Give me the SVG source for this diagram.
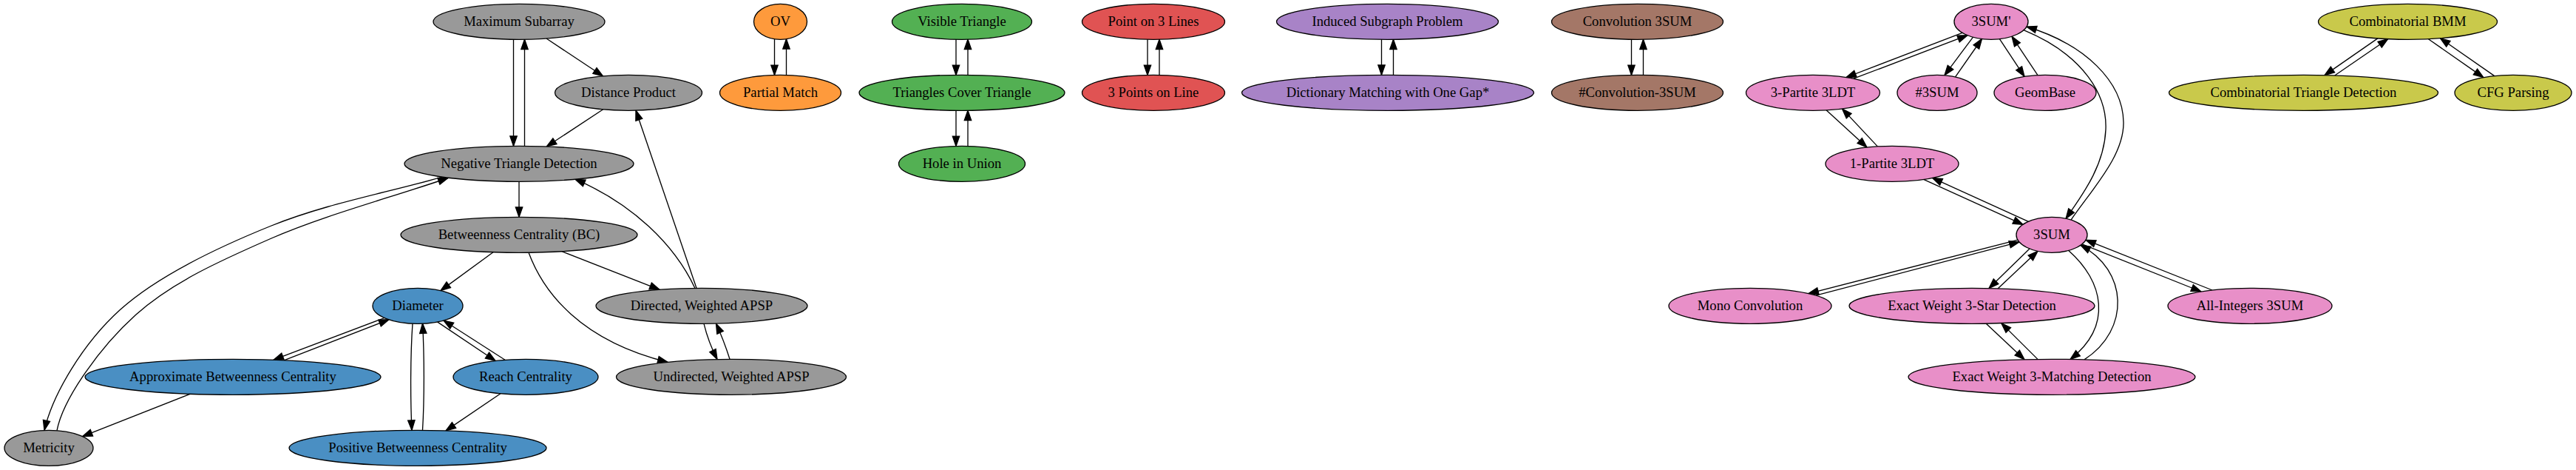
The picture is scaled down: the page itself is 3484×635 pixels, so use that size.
<svg xmlns="http://www.w3.org/2000/svg" width="3484" height="635" viewBox="0 0 3484 635">
<style>
.n ellipse{stroke:#000;stroke-width:1.33}
.n text{font-family:"Liberation Serif","Times New Roman",serif;font-size:18.67px;text-anchor:middle;fill:#000}
.gray ellipse{fill:#999999}
.blue ellipse{fill:#4a8fc3}
.orange ellipse{fill:#fe9a3c}
.green ellipse{fill:#53b053}
.red ellipse{fill:#e05353}
.purple ellipse{fill:#a883c7}
.brown ellipse{fill:#a47767}
.pink ellipse{fill:#e88fc8}
.olive ellipse{fill:#c9c94b}
#edges path{fill:none;stroke:#000;stroke-width:1.33;marker-end:url(#ah)}
</style>
<defs>
<marker id="ah" markerUnits="userSpaceOnUse" markerWidth="16" markerHeight="12" refX="13.3" refY="4.67" orient="auto" overflow="visible">
<path d="M0,0 L13.3,4.67 L0,9.33 z" fill="#000" stroke="#000" stroke-width="1.33"/>
</marker>
</defs>
<rect width="3484" height="635" fill="#fff"/>
<g id="edges">
<path d="M694.5,53.2 L694.5,197.3"/>
<path d="M709.5,197.3 L709.5,53.2"/>
<path d="M739,52 L815.5,102.8"/>
<path d="M815.7,147.8 L739.3,198"/>
<path d="M702,245.3 L702,293.3"/>
<path d="M598,239.1 C521,261 440.7,275.3 367,305 C293.3,334.7 214,372.2 163,418 C112,463.8 71,533.3 60,581.4"/>
<path d="M77,581.7 C85.3,538.4 135.7,468.3 184,425 C232.3,381.7 296.7,352.7 367,322 C437.3,291.3 526.3,267.7 606,240.5"/>
<path d="M940,389.5 C912,330 855,275 778,242.2"/>
<path d="M942,389.3 L860,149.2"/>
<path d="M760,339.7 L892,391.3"/>
<path d="M715,341.2 C735,395 785,460 903,489.3"/>
<path d="M952,437.3 Q958,462 970,485.5"/>
<path d="M987,485.3 Q979,460 968.5,437.3"/>
<path d="M667,340.7 L596,392.6"/>
<path d="M520,429.5 L370,486.2"/>
<path d="M384,486.8 L526,431.8"/>
<path d="M558,437.1 C555,480 555,540 557,581.3"/>
<path d="M571.5,581.3 C574,540 574,480 571.5,437.1"/>
<path d="M591.5,434.9 L670,487.5"/>
<path d="M683,486.3 L600,433"/>
<path d="M677,531.8 L603,581.9"/>
<path d="M257,532.3 L111.5,589.7"/>
<path d="M1047.5,52.7 L1047.5,101.4"/>
<path d="M1063.5,101.4 L1063.5,52.7"/>
<path d="M1293,53.2 L1293,101.4"/>
<path d="M1309,101.4 L1309,53.2"/>
<path d="M1293,149.2 L1293,197.4"/>
<path d="M1309,197.4 L1309,149.2"/>
<path d="M1552,53.2 L1552,101.4"/>
<path d="M1568,101.4 L1568,53.2"/>
<path d="M1868.5,53.2 L1868.5,101.3"/>
<path d="M1884.5,101.3 L1884.5,53.2"/>
<path d="M2206.5,53.2 L2206.5,101.4"/>
<path d="M2222.5,101.4 L2222.5,53.2"/>
<path d="M2654,44.3 L2497,104.5"/>
<path d="M2507,106.2 L2661,47.7"/>
<path d="M2668.5,50.2 L2630,101.7"/>
<path d="M2644.6,103.9 L2680.5,52.5"/>
<path d="M2704.4,52.7 L2738,103.4"/>
<path d="M2756,101.6 L2721,49.2"/>
<path d="M2737,40.7 C2820,75 2850,130 2848,175 C2846,225 2815,265 2794,295.5"/>
<path d="M2801,297.1 C2830,255 2873,210 2872,165 C2871,110 2820,60 2741,36"/>
<path d="M2470,148.8 L2525,199.1"/>
<path d="M2539.4,197.9 L2491.5,146.9"/>
<path d="M2601.6,242.4 L2736,303.3"/>
<path d="M2744,299.6 L2613.5,240.4"/>
<path d="M2729,324.2 L2446,396.6"/>
<path d="M2456,399.2 L2731,326.9"/>
<path d="M2745,336 L2690,389.5"/>
<path d="M2702,389.9 L2756,339.3"/>
<path d="M2797.7,338.4 C2845,380 2858,440 2800,485.5"/>
<path d="M2819,485.9 C2882,445 2878,365 2814,331.3"/>
<path d="M2816,329.8 L2977,394"/>
<path d="M2992,392 L2821,324.2"/>
<path d="M2686,437.1 L2738,485.7"/>
<path d="M2756,485.4 L2706.8,436.6"/>
<path d="M3215.8,51.9 L3144,101.6"/>
<path d="M3157.7,102 L3229.6,52.7"/>
<path d="M3284.4,52.7 L3358.8,104.6"/>
<path d="M3373.7,102.6 L3300.4,51.7"/>
</g>
<g id="MS" class="n gray"><ellipse cx="702" cy="29.3" rx="116" ry="24"/><text x="702" y="35.3">Maximum Subarray</text></g>
<g id="DP" class="n gray"><ellipse cx="850" cy="125.3" rx="99.5" ry="24"/><text x="850" y="131.3">Distance Product</text></g>
<g id="NT" class="n gray"><ellipse cx="702" cy="221.3" rx="155" ry="24"/><text x="702" y="227.3">Negative Triangle Detection</text></g>
<g id="BC" class="n gray"><ellipse cx="702" cy="317.3" rx="160" ry="24"/><text x="702" y="323.3">Betweenness Centrality (BC)</text></g>
<g id="DWA" class="n gray"><ellipse cx="949" cy="413.3" rx="143" ry="24"/><text x="949" y="419.3">Directed, Weighted APSP</text></g>
<g id="UWA" class="n gray"><ellipse cx="989" cy="509.3" rx="155.5" ry="24"/><text x="989" y="515.3">Undirected, Weighted APSP</text></g>
<g id="MET" class="n gray"><ellipse cx="66" cy="605.3" rx="60" ry="24"/><text x="66" y="611.3">Metricity</text></g>
<g id="DIA" class="n blue"><ellipse cx="565" cy="413.3" rx="61" ry="24"/><text x="565" y="419.3">Diameter</text></g>
<g id="ABC" class="n blue"><ellipse cx="315" cy="509.3" rx="200" ry="24"/><text x="315" y="515.3">Approximate Betweenness Centrality</text></g>
<g id="RC" class="n blue"><ellipse cx="711" cy="509.3" rx="98" ry="24"/><text x="711" y="515.3">Reach Centrality</text></g>
<g id="PBC" class="n blue"><ellipse cx="565" cy="605.3" rx="174" ry="24"/><text x="565" y="611.3">Positive Betweenness Centrality</text></g>
<g id="OV" class="n orange"><ellipse cx="1055.5" cy="29.3" rx="36" ry="24"/><text x="1055.5" y="35.3">OV</text></g>
<g id="PM" class="n orange"><ellipse cx="1055.5" cy="125.3" rx="82" ry="24"/><text x="1055.5" y="131.3">Partial Match</text></g>
<g id="VT" class="n green"><ellipse cx="1301" cy="29.3" rx="94.5" ry="24"/><text x="1301" y="35.3">Visible Triangle</text></g>
<g id="TCT" class="n green"><ellipse cx="1301" cy="125.3" rx="139" ry="24"/><text x="1301" y="131.3">Triangles Cover Triangle</text></g>
<g id="HU" class="n green"><ellipse cx="1301" cy="221.3" rx="85.5" ry="24"/><text x="1301" y="227.3">Hole in Union</text></g>
<g id="P3L" class="n red"><ellipse cx="1560" cy="29.3" rx="96.5" ry="24"/><text x="1560" y="35.3">Point on 3 Lines</text></g>
<g id="TPL" class="n red"><ellipse cx="1560" cy="125.3" rx="96.5" ry="24"/><text x="1560" y="131.3">3 Points on Line</text></g>
<g id="ISP" class="n purple"><ellipse cx="1876.5" cy="29.3" rx="150" ry="24"/><text x="1876.5" y="35.3">Induced Subgraph Problem</text></g>
<g id="DMG" class="n purple"><ellipse cx="1877" cy="125.3" rx="197.5" ry="24"/><text x="1877" y="131.3">Dictionary Matching with One Gap*</text></g>
<g id="C3" class="n brown"><ellipse cx="2214.5" cy="29.3" rx="116" ry="24"/><text x="2214.5" y="35.3">Convolution 3SUM</text></g>
<g id="NC3" class="n brown"><ellipse cx="2214.5" cy="125.3" rx="116" ry="24"/><text x="2214.5" y="131.3">#Convolution-3SUM</text></g>
<g id="S3P" class="n pink"><ellipse cx="2693" cy="29.3" rx="50" ry="24"/><text x="2693" y="35.3">3SUM'</text></g>
<g id="P3" class="n pink"><ellipse cx="2452" cy="125.3" rx="90.5" ry="24"/><text x="2452" y="131.3">3-Partite 3LDT</text></g>
<g id="H3" class="n pink"><ellipse cx="2620" cy="125.3" rx="54" ry="24"/><text x="2620" y="131.3">#3SUM</text></g>
<g id="GB" class="n pink"><ellipse cx="2766" cy="125.3" rx="69" ry="24"/><text x="2766" y="131.3">GeomBase</text></g>
<g id="P1" class="n pink"><ellipse cx="2559" cy="221.3" rx="90" ry="24"/><text x="2559" y="227.3">1-Partite 3LDT</text></g>
<g id="S3" class="n pink"><ellipse cx="2775" cy="317.3" rx="48" ry="24"/><text x="2775" y="323.3">3SUM</text></g>
<g id="MC" class="n pink"><ellipse cx="2367" cy="413.3" rx="110" ry="24"/><text x="2367" y="419.3">Mono Convolution</text></g>
<g id="EW3S" class="n pink"><ellipse cx="2667" cy="413.3" rx="166" ry="24"/><text x="2667" y="419.3">Exact Weight 3-Star Detection</text></g>
<g id="AI3" class="n pink"><ellipse cx="3043" cy="413.3" rx="111" ry="24"/><text x="3043" y="419.3">All-Integers 3SUM</text></g>
<g id="EW3M" class="n pink"><ellipse cx="2775" cy="509.3" rx="194" ry="24"/><text x="2775" y="515.3">Exact Weight 3-Matching Detection</text></g>
<g id="BMM" class="n olive"><ellipse cx="3256.5" cy="29.3" rx="121" ry="24"/><text x="3256.5" y="35.3">Combinatorial BMM</text></g>
<g id="CTD" class="n olive"><ellipse cx="3115.5" cy="125.3" rx="182" ry="24"/><text x="3115.5" y="131.3">Combinatorial Triangle Detection</text></g>
<g id="CFG" class="n olive"><ellipse cx="3399" cy="125.3" rx="79" ry="24"/><text x="3399" y="131.3">CFG Parsing</text></g>
</svg>
